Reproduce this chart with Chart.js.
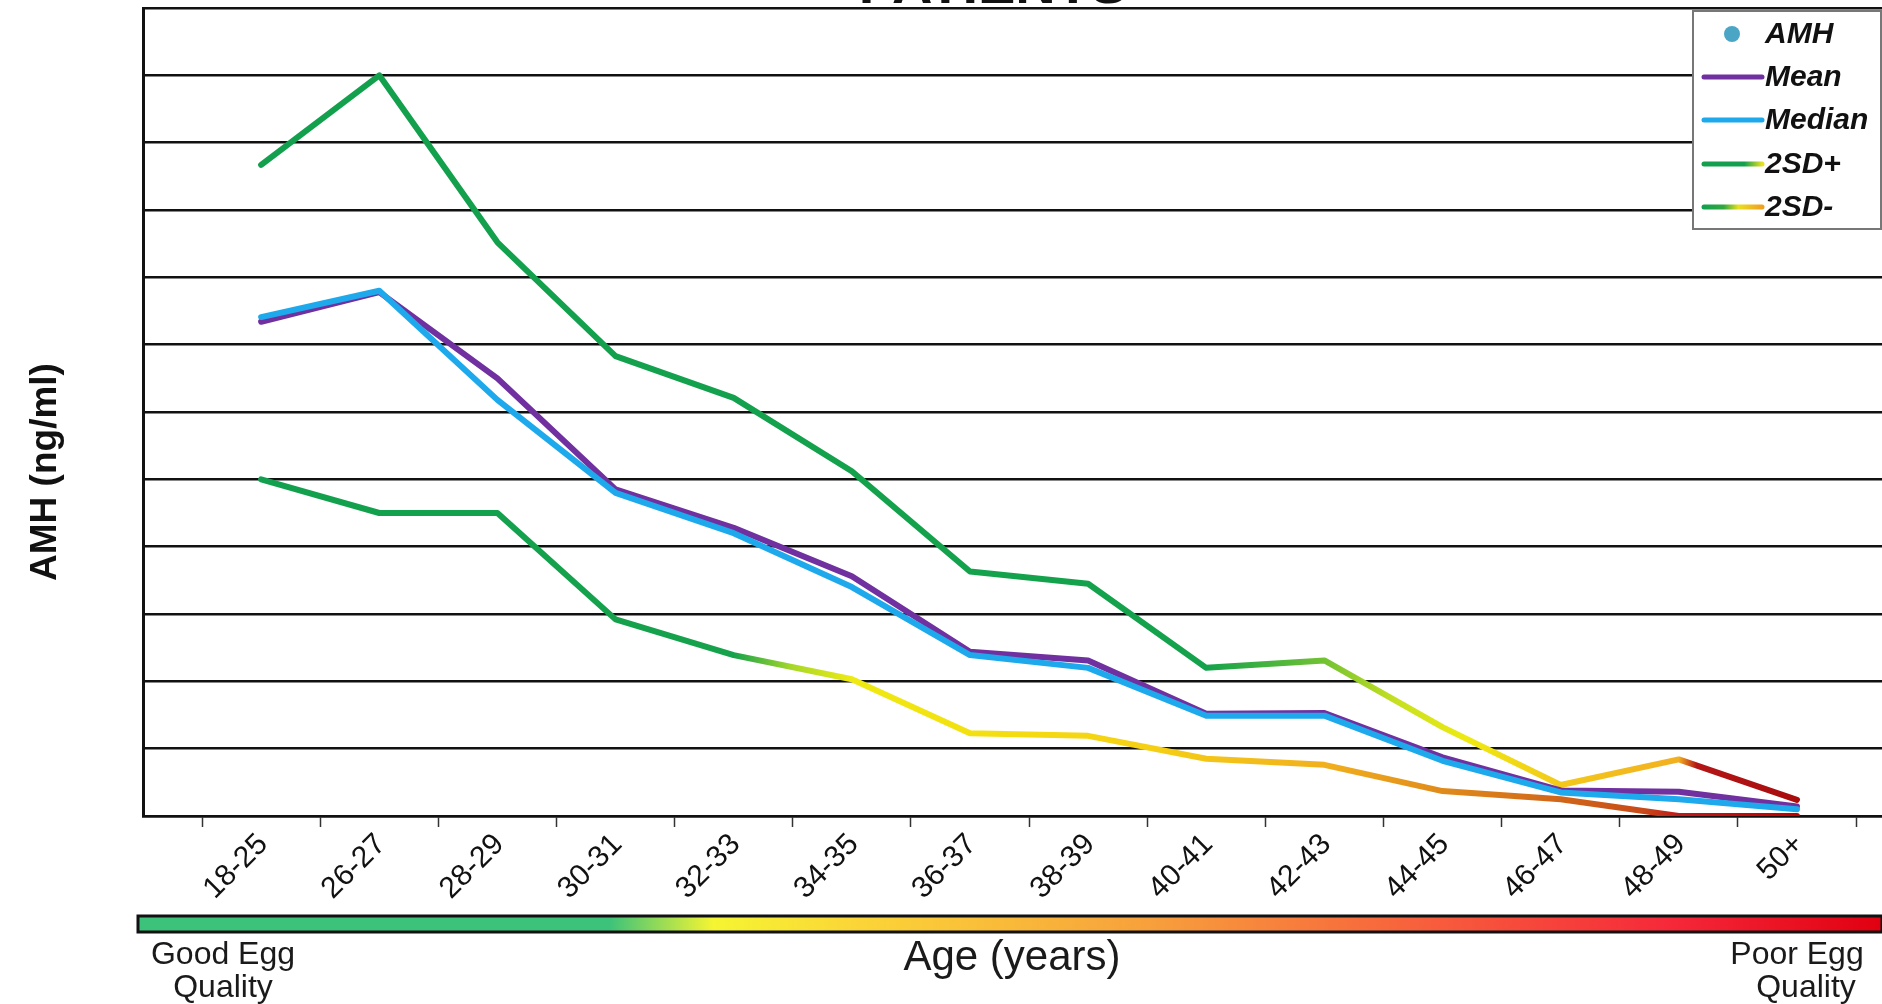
<!DOCTYPE html>
<html lang="en">
<head>
<meta charset="UTF-8">
<title>AMH por idade</title>
<script src="https://cdn.jsdelivr.net/npm/chart.js"></script>
<style>
    html, body { margin: 0; padding: 0; background: #fff; }
    .chartBox { width: 1882px; height: 1004px; }
</style>
</head>
<body>
<div class="chartBox"><canvas id="chartAmh"></canvas></div>

<script>
    // age groups on the x axis
    const ageGroups = ["18-25", "26-27", "28-29", "30-31", "32-33", "34-35", "36-37",
                       "38-39", "40-41", "42-43", "44-45", "46-47", "48-49", "50+"];

    // AMH values (ng/ml)
    const amhPatients = [];   // no patient points are plotted
    const meanValues   = [7.34, 7.78, 6.50, 4.85, 4.28, 3.56, 2.44, 2.31, 1.52, 1.53, 0.87, 0.38, 0.36, 0.14];
    const medianValues = [7.41, 7.80, 6.18, 4.80, 4.20, 3.40, 2.39, 2.20, 1.49, 1.49, 0.82, 0.35, 0.25, 0.10];
    const plus2sd      = [9.67, 11.0, 8.52, 6.83, 6.21, 5.12, 3.63, 3.45, 2.20, 2.31, 1.32, 0.46, 0.84, 0.24];
    const minus2sd     = [5.00, 4.50, 4.50, 2.92, 2.39, 2.03, 1.23, 1.19, 0.85, 0.76, 0.37, 0.25, 0.00, 0.00];

    const fontFamily = '"Liberation Sans", Arial, sans-serif';

    // colour along the age axis for the 2SD lines  [age index, colour]
    const plusStops = [[0, "#12a04e"], [8, "#14a24c"], [9, "#72c232"], [9.6, "#c6e020"], [10.2, "#eeea12"],
                       [11, "#f3c81a"], [12, "#f2b020"], [12.15, "#b41616"], [13, "#a80c0c"]];
    const minusStops = [[0, "#12a04e"], [4, "#16a24c"], [4.5, "#a8d828"], [5, "#eeea12"], [6, "#f3e010"],
                        [7.5, "#f5d014"], [9, "#f1b01e"], [10, "#e08a1a"], [11, "#d0661a"], [11.7, "#c84a18"],
                        [12, "#c01818"], [13, "#c00000"]];

    function toPoints(values) {
        return values.map((v, i) => ({ x: i, y: v }));
    }

    function gradientAlongX(stops) {
        return function (context) {
            const chart = context.chart;
            const xScale = chart.scales.x;
            if (!chart.chartArea || !xScale) return stops[0][1];
            const last = ageGroups.length - 1;
            const x0 = xScale.getPixelForValue(0);
            const x1 = xScale.getPixelForValue(last);
            if (!isFinite(x0) || !isFinite(x1) || x1 === x0) return stops[0][1];
            const g = chart.ctx.createLinearGradient(x0, 0, x1, 0);
            stops.forEach(s => g.addColorStop(s[0] / last, s[1]));
            return g;
        };
    }

    // everything drawn around the plot: title, axis texts, quality bar and legend
    const decorations = {
        id: "decorations",
        afterDraw(chart) {
            const ctx = chart.ctx;
            ctx.save();
            ctx.fillStyle = "#111";

            // title, cut off at the top of the picture
            ctx.font = "bold 56px " + fontFamily;
            ctx.textAlign = "center";
            ctx.textBaseline = "alphabetic";
            ctx.fillText("PATIENTS", 993, 3);

            // y axis title
            ctx.save();
            ctx.translate(46, 472);
            ctx.rotate(-Math.PI / 2);
            ctx.font = "bold 37px " + fontFamily;
            ctx.textBaseline = "middle";
            ctx.fillText("AMH (ng/ml)", 0, 0);
            ctx.restore();

            // egg quality colour bar
            const barX = 138, barY = 916, barW = 1882 - 138, barH = 16;
            const bar = ctx.createLinearGradient(barX, 0, barX + barW, 0);
            bar.addColorStop(0, "#3cc27a");
            bar.addColorStop(0.27, "#3cc27a");
            bar.addColorStop(0.33, "#f5f532");
            bar.addColorStop(0.41, "#fbd637");
            bar.addColorStop(0.58, "#f7a03c");
            bar.addColorStop(0.75, "#f75a3c");
            bar.addColorStop(0.88, "#f5283a");
            bar.addColorStop(1, "#e00010");
            ctx.fillStyle = bar;
            ctx.fillRect(barX, barY, barW, barH);
            ctx.strokeStyle = "#111";
            ctx.lineWidth = 3;
            ctx.strokeRect(barX, barY, barW, barH);

            ctx.fillStyle = "#1a1a1a";
            ctx.textBaseline = "middle";
            ctx.font = "32px " + fontFamily;
            ctx.fillText("Good Egg", 223, 955);
            ctx.fillText("Quality", 223, 988);
            ctx.fillText("Poor Egg", 1797, 955);
            ctx.fillText("Quality", 1806, 988);
            ctx.font = "42px " + fontFamily;
            ctx.fillText("Age (years)", 1012, 958);

            // legend box
            const lx = 1693, ly = 11, lw = 1882 - 1693, lh = 218;
            ctx.fillStyle = "#fff";
            ctx.fillRect(lx, ly, lw, lh);
            ctx.strokeStyle = "#777";
            ctx.lineWidth = 2;
            ctx.strokeRect(lx, ly, lw - 1, lh);

            const rowY = [34, 77, 120, 164, 207];
            ctx.font = "italic bold 30px " + fontFamily;
            ctx.textAlign = "left";
            chart.data.datasets.forEach((ds, i) => {
                const y = rowY[i];
                if (ds.legendKind === "dot") {
                    ctx.fillStyle = ds.legendColor;
                    ctx.beginPath();
                    ctx.arc(1732, y, 8, 0, Math.PI * 2);
                    ctx.fill();
                } else {
                    let stroke = ds.legendColor;
                    if (ds.legendStops) {
                        stroke = ctx.createLinearGradient(1703, 0, 1762, 0);
                        ds.legendStops.forEach(s => stroke.addColorStop(s[0], s[1]));
                    }
                    ctx.strokeStyle = stroke;
                    ctx.lineWidth = 5;
                    ctx.lineCap = "round";
                    ctx.beginPath();
                    ctx.moveTo(1704, y);
                    ctx.lineTo(1762, y);
                    ctx.stroke();
                }
                ctx.fillStyle = "#111";
                ctx.fillText(ds.label, 1765, y + 1);
            });
            ctx.restore();
        }
    };

    const chartAmh = new Chart(document.getElementById("chartAmh"), {
        type: "line",
        data: {
            datasets: [
                {
                    label: "AMH", data: toPoints(amhPatients), showLine: false,
                    pointRadius: 8, backgroundColor: "#4ba5c5", borderColor: "#4ba5c5",
                    legendKind: "dot", legendColor: "#4ba5c5", order: 0
                },
                {
                    label: "Mean", data: toPoints(meanValues), borderColor: "#7030a0",
                    legendColor: "#7030a0", order: 2
                },
                {
                    label: "Median", data: toPoints(medianValues), borderColor: "#1ea9ec",
                    legendColor: "#1ea9ec", order: 1
                },
                {
                    label: "2SD+", data: toPoints(plus2sd), borderColor: gradientAlongX(plusStops),
                    legendStops: [[0, "#12a04e"], [0.7, "#12a04e"], [1, "#e8e020"]], order: 3
                },
                {
                    label: "2SD-", data: toPoints(minus2sd), borderColor: gradientAlongX(minusStops),
                    legendStops: [[0, "#12a04e"], [0.35, "#30a840"], [0.6, "#e8e020"], [1, "#f0a020"]], order: 3
                }
            ]
        },
        options: {
            responsive: true,
            maintainAspectRatio: false,
            animation: false,
            layout: { padding: { top: 8, right: 0, left: 0, bottom: 0 } },
            elements: {
                line: { borderWidth: 6, tension: 0, borderCapStyle: "round", borderJoinStyle: "round" },
                point: { radius: 0, hoverRadius: 0 }
            },
            plugins: {
                legend: { display: false },
                tooltip: { enabled: false }
            },
            scales: {
                x: {
                    type: "linear",
                    min: -1,
                    max: 13.72,
                    afterBuildTicks: (axis) => {
                        axis.ticks = ageGroups.map((_, i) => ({ value: i }));
                    },
                    afterFit: (axis) => { axis.height = 1004 - 816; },
                    ticks: {
                        autoSkip: false,
                        minRotation: 45,
                        maxRotation: 45,
                        padding: 0,
                        labelOffset: 2,
                        color: "#111",
                        font: { family: fontFamily, size: 30 },
                        callback: (value, index) => ageGroups[index]
                    },
                    grid: {
                        offset: true,
                        drawOnChartArea: false,
                        drawTicks: true,
                        tickLength: 11,
                        tickWidth: 1.5,
                        tickColor: "#333"
                    },
                    border: { display: true, color: "#111", width: 2.5 }
                },
                y: {
                    min: 0,
                    max: 12,
                    afterFit: (axis) => { axis.width = 143; },
                    ticks: { display: false, stepSize: 1 },
                    grid: { color: "#111", lineWidth: 2.5, drawTicks: false },
                    border: { display: true, color: "#111", width: 3 }
                }
            }
        },
        plugins: [decorations]
    });
</script>
</body>
</html>
